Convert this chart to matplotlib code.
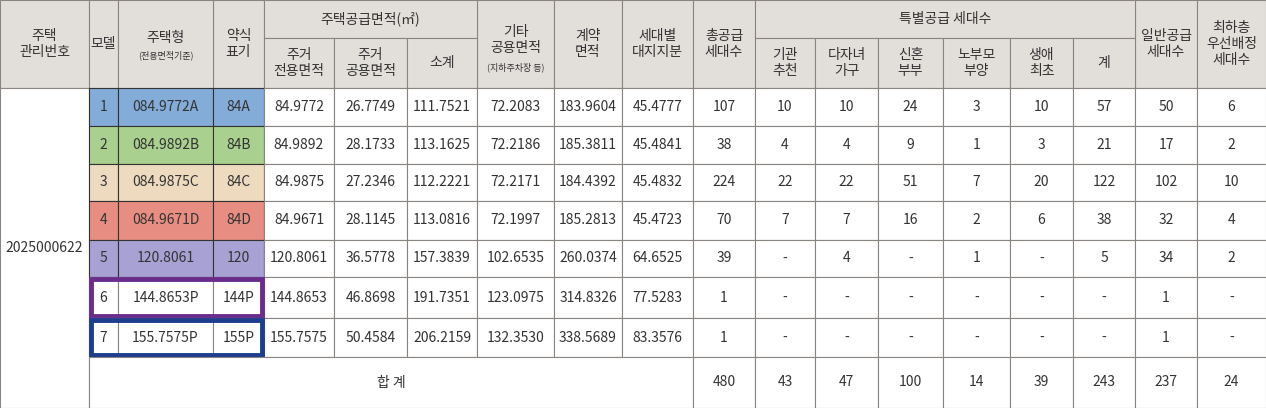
import matplotlib
matplotlib.use('Agg')
import matplotlib.pyplot as plt
from matplotlib.patches import Rectangle

plt.rcParams['font.family'] = ['Noto Sans CJK KR', 'DejaVu Sans']

# table data
models = ['1', '2', '3', '4', '5', '6', '7']
types = ['084.9772A', '084.9892B', '084.9875C', '084.9671D', '120.8061', '144.8653P', '155.7575P']
short = ['84A', '84B', '84C', '84D', '120', '144P', '155P']
excl = ['84.9772', '84.9892', '84.9875', '84.9671', '120.8061', '144.8653', '155.7575']
common = ['26.7749', '28.1733', '27.2346', '28.1145', '36.5778', '46.8698', '50.4584']
subtotal = ['111.7521', '113.1625', '112.2221', '113.0816', '157.3839', '191.7351', '206.2159']
other = ['72.2083', '72.2186', '72.2171', '72.1997', '102.6535', '123.0975', '132.3530']
contract = ['183.9604', '185.3811', '184.4392', '185.2813', '260.0374', '314.8326', '338.5689']
land = ['45.4777', '45.4841', '45.4832', '45.4723', '64.6525', '77.5283', '83.3576']
total_supply = ['107', '38', '224', '70', '39', '1', '1']
inst = ['10', '4', '22', '7', '-', '-', '-']
multi = ['10', '4', '22', '7', '4', '-', '-']
newly = ['24', '9', '51', '16', '-', '-', '-']
elder = ['3', '1', '7', '2', '1', '-', '-']
first = ['10', '3', '20', '6', '-', '-', '-']
special = ['57', '21', '122', '38', '5', '-', '-']
general = ['50', '17', '102', '32', '34', '1', '1']
lowest = ['6', '2', '10', '4', '2', '-', '-']
totals = ['480', '43', '47', '100', '14', '39', '243', '237', '24']

row_colors = ['#84acd9', '#a9d08f', '#eedbbf', '#e78d82', '#a7a1d4', 'white', 'white']
frame_colors = {5: '#6b2d8c', 6: '#1d3e8e'}

xs = [0, 89, 118, 213, 264, 334, 407, 477, 554, 622, 693, 755, 815, 878, 943, 1010, 1073, 1135, 1197, 1266]
ys = [88, 126, 164, 201, 240, 277, 318, 357, 408]
hdr = '#e2deda'
line = '#8a8580'

fig = plt.figure(figsize=(12.66, 4.08), dpi=100)
ax = fig.add_axes([0, 0, 1, 1])
ax.set_xlim(0, 1266)
ax.set_ylim(408, 0)
ax.axis('off')

def cell(x0, x1, y0, y1, text='', fc='white', fs=10, ec=line, lw=0.8):
    ax.add_patch(Rectangle((x0, y0), x1 - x0, y1 - y0, fc=fc, ec=ec, lw=lw))
    if text:
        ax.text((x0 + x1) / 2, (y0 + y1) / 2, text, ha='center', va='center',
                fontsize=fs, color='#333333', linespacing=1.2)

# header
single = {0: '주택\n관리번호', 1: '모델', 3: '약식\n표기', 7: '기타\n공용면적', 8: '계약\n면적',
          9: '세대별\n대지지분', 10: '총공급\n세대수', 17: '일반공급\n세대수', 18: '최하층\n우선배정\n세대수'}
for i, t in single.items():
    cell(xs[i], xs[i + 1], 0, 88, t, fc=hdr)
cell(xs[2], xs[3], 0, 88, fc=hdr)
ax.text((xs[2] + xs[3]) / 2, 38, '주택형', ha='center', va='center', fontsize=10, color='#333333')
ax.text((xs[2] + xs[3]) / 2, 55, '(전용면적기준)', ha='center', va='center', fontsize=6.5, color='#333333')
ax.text((xs[7] + xs[8]) / 2, 67, '(지하주차장 등)', ha='center', va='center', fontsize=6.5, color='#333333')
cell(xs[4], xs[7], 0, 38, '주택공급면적(㎡)', fc=hdr)
for i, t in zip(range(4, 7), ['주거\n전용면적', '주거\n공용면적', '소계']):
    cell(xs[i], xs[i + 1], 38, 88, t, fc=hdr)
cell(xs[11], xs[17], 0, 38, '특별공급 세대수', fc=hdr)
for i, t in zip(range(11, 17), ['기관\n추천', '다자녀\n가구', '신혼\n부부', '노부모\n부양', '생애\n최초', '계']):
    cell(xs[i], xs[i + 1], 38, 88, t, fc=hdr)
# fix 기타 header text position (move first lines up)
ax.texts[[t.get_text() for t in ax.texts].index('기타\n공용면적')].set_y(40)

# body
cell(xs[0], xs[1], ys[0], ys[-1], '2025000622')
for r in range(7):
    y0, y1 = ys[r], ys[r + 1]
    vals = [models[r], types[r], short[r], excl[r], common[r], subtotal[r], other[r], contract[r],
            land[r], total_supply[r], inst[r], multi[r], newly[r], elder[r], first[r], special[r],
            general[r], lowest[r]]
    for c, v in enumerate(vals):
        fc = row_colors[r] if c < 3 else 'white'
        cell(xs[c + 1], xs[c + 2], y0, y1, v, fc=fc, ec=('#333333' if c < 3 and r < 5 else line))
    if r in frame_colors:
        ax.add_patch(Rectangle((xs[1] + 2, y0 + 2), xs[4] - xs[1] - 4, y1 - y0 - 4,
                               fill=False, ec=frame_colors[r], lw=3.5))

cell(xs[1], xs[10], ys[7], ys[8], '합 계')
for c, v in enumerate(totals):
    cell(xs[c + 10], xs[c + 11], ys[7], ys[8], v)

fig.savefig('out.png', dpi=100)
